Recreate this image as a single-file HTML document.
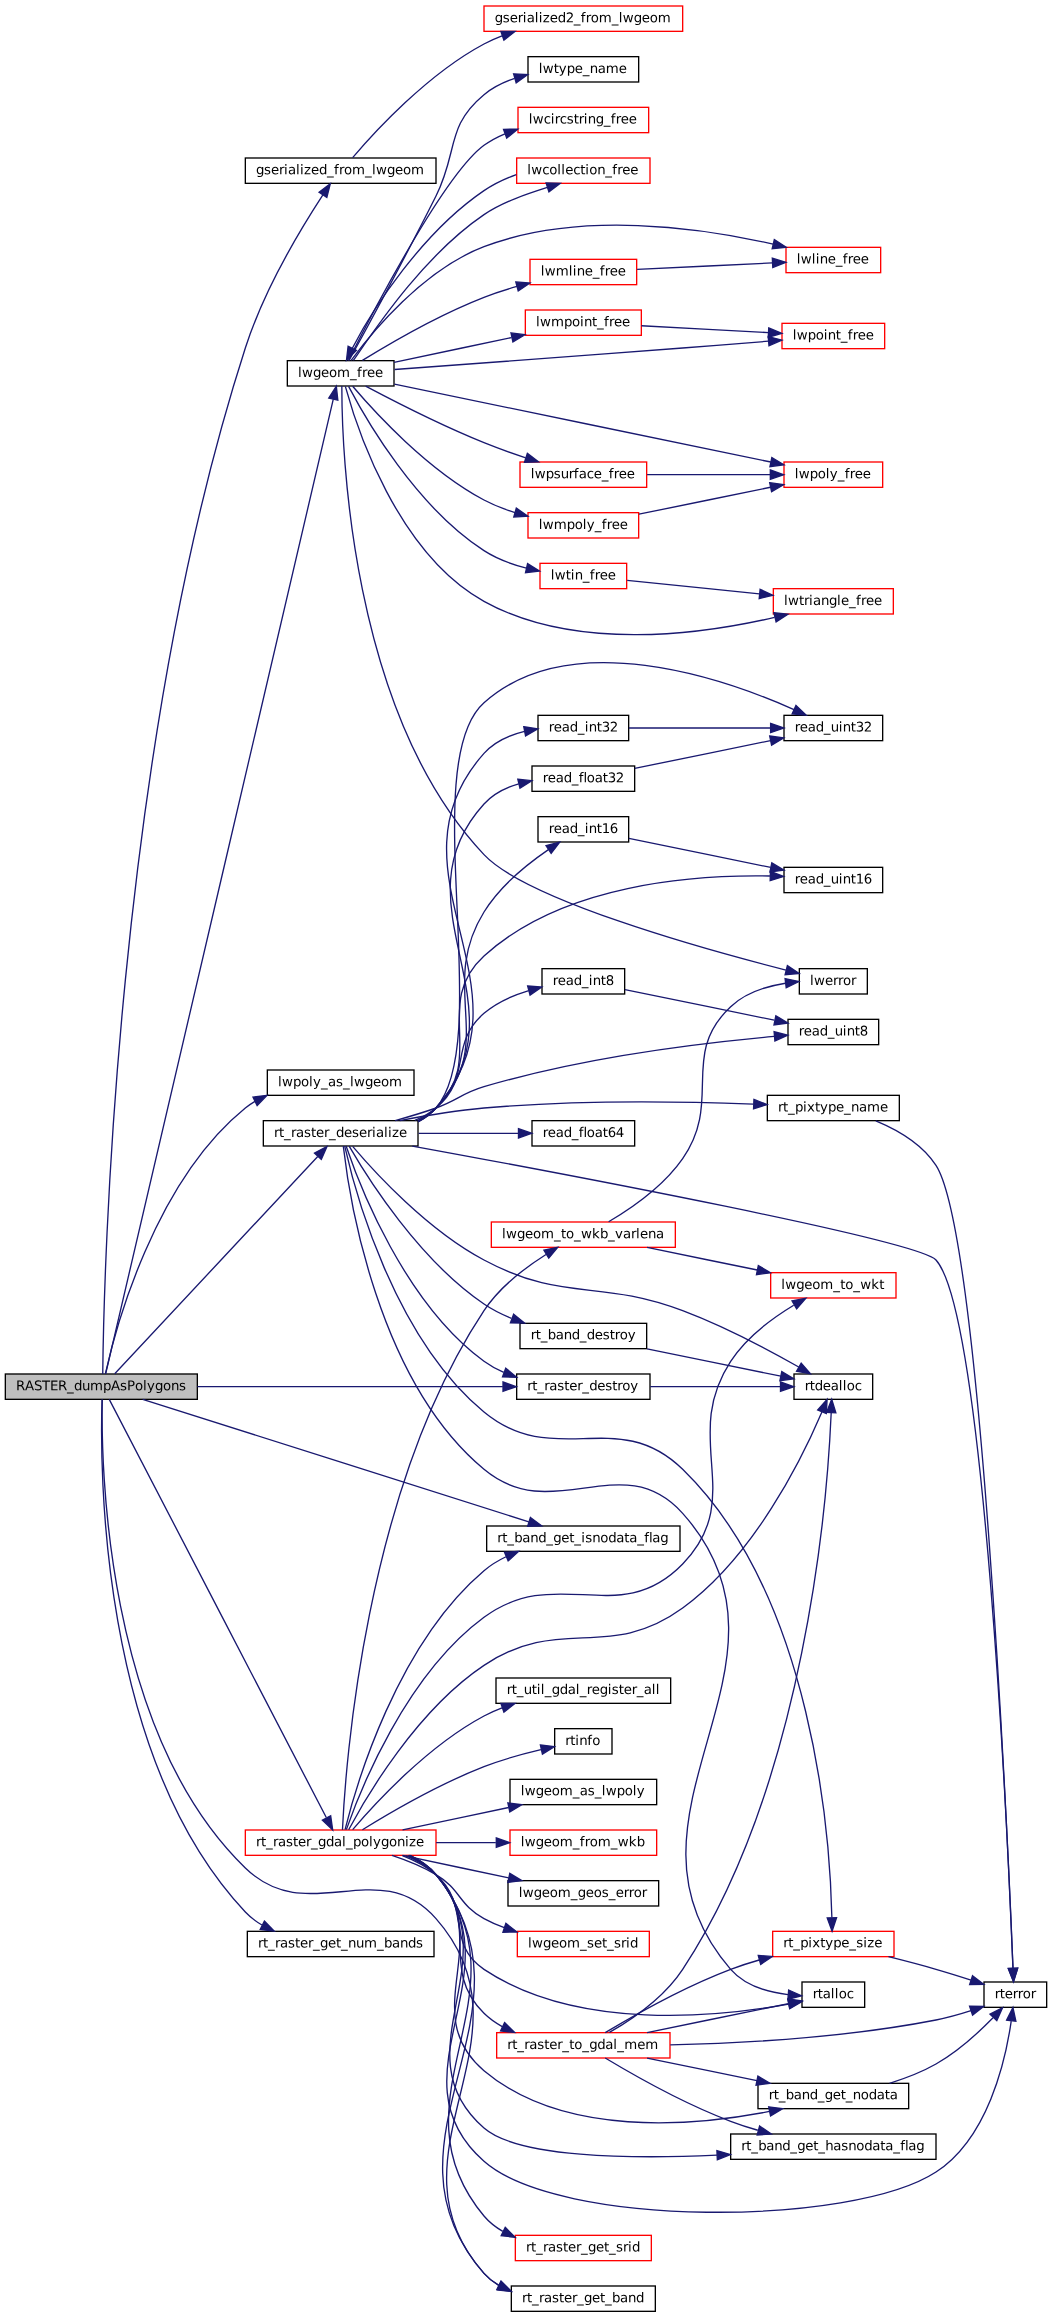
<!DOCTYPE html>
<html lang="en">
<head>
<meta charset="utf-8">
<title>RASTER_dumpAsPolygons call graph</title>
<style>
html,body{margin:0;padding:0;background:#fff;}
body{width:1052px;height:2317px;overflow:hidden;}
svg{display:block;will-change:transform;}
svg text{font-family:"DejaVu Sans","Liberation Sans",sans-serif;font-size:10px;fill:#000;}
</style>
</head>
<body>
<svg width="1052" height="2317.3333" viewBox="0 0 789 1738">
<g id="graph0" class="graph" transform="translate(4 1734)">
<polygon fill="white" stroke="none" points="-4,4 -4,-1734 785,-1734 785,4 -4,4"/>
<g id="node1" class="node">
<rect fill="#bfbfbf" stroke="black" x="0" y="-703.5" width="144" height="19"/>
<text transform="translate(8 -691.312) rotate(-0.03)" x="0 6.75 13.5 19.5 25.5 31.5 38.25 43.5 49.5 55.5 65.25 71.25 78 83.25 89.25 95.25 98.25 104.25 110.25 116.25 122.25">RASTER_dumpAsPolygons</text>
</g>
<g id="node2" class="node">
<rect fill="white" stroke="black" x="180" y="-1615.5" width="143" height="19"/>
<text transform="translate(188 -1603.312) rotate(-0.03)" x="0 6 11.25 17.25 21 24 30 33 36 41.25 47.25 53.25 58.5 62.25 66 72 81.75 87 90 98.25 104.25 110.25 116.25">gserialized_from_lwgeom</text>
</g>
<g id="edge1" class="edge">
<path fill="none" stroke="midnightblue" d="M73.06,-703.53C73.75,-769.88 81.96,-1168.98 180,-1473 194.08,-1516.67 222.01,-1563 238.17,-1587.8"/>
<polygon fill="midnightblue" stroke="midnightblue" points="235.29,-1589.79 243.73,-1596.2 241.13,-1585.93 235.29,-1589.79"/>
</g>
<g id="node4" class="node">
<rect fill="white" stroke="black" x="211.5" y="-1463.5" width="80" height="19"/>
<text transform="translate(219.5 -1451.25) rotate(-0.03)" x="0 3 11.25 17.25 23.25 29.25 39 44.25 48 51.75 57.75">lwgeom_free</text>
</g>
<g id="edge3" class="edge">
<path fill="none" stroke="midnightblue" d="M75.24,-703.61C93.69,-782.6 220.3,-1324.69 245.97,-1434.59"/>
<polygon fill="midnightblue" stroke="midnightblue" points="242.56,-1435.41 248.25,-1444.35 249.38,-1433.81 242.56,-1435.41"/>
</g>
<g id="node18" class="node">
<rect fill="white" stroke="black" x="196.5" y="-931.5" width="110" height="19"/>
<text transform="translate(204.5 -919.312) rotate(-0.03)" x="0 3 11.25 17.25 23.25 26.25 32.25 37.5 43.5 48.75 54 57 65.25 71.25 77.25 83.25">lwpoly_as_lwgeom</text>
</g>
<g id="edge23" class="edge">
<path fill="none" stroke="midnightblue" d="M75.01,-703.66C82.44,-736.9 111.56,-847.61 180,-903 182.26,-904.83 184.69,-906.49 187.23,-907.98"/>
<polygon fill="midnightblue" stroke="midnightblue" points="185.72,-911.14 196.23,-912.49 188.85,-904.88 185.72,-911.14"/>
</g>
<g id="node19" class="node">
<rect fill="white" stroke="black" x="361" y="-589.5" width="145" height="19"/>
<text transform="translate(368.938 -577.312) rotate(-0.03)" x="0 3.75 7.5 12.75 18.75 24.75 30.75 36.75 42 48 54 57.75 63 66 71.25 77.25 83.25 89.25 95.25 99 105 110.25 113.77 116.25 122.25">rt_band_get_isnodata_flag</text>
</g>
<g id="edge24" class="edge">
<path fill="none" stroke="midnightblue" d="M103.03,-684.48C167.66,-663.98 319.95,-615.69 392.6,-592.65"/>
<polygon fill="midnightblue" stroke="midnightblue" points="393.83,-595.94 402.3,-589.58 391.71,-589.26 393.83,-595.94"/>
</g>
<g id="node20" class="node">
<rect fill="white" stroke="black" x="193.5" y="-893.5" width="116" height="19"/>
<text transform="translate(201.5 -881.25) rotate(-0.03)" x="0 3.75 7.5 12.75 16.5 22.5 27.75 31.5 37.5 41.25 46.5 52.5 58.5 63.75 69.75 73.5 76.5 82.5 85.5 88.5 93.75">rt_raster_deserialize</text>
</g>
<g id="edge25" class="edge">
<path fill="none" stroke="midnightblue" d="M82.05,-703.68C110.41,-734.04 197.85,-827.65 234.3,-866.66"/>
<polygon fill="midnightblue" stroke="midnightblue" points="231.87,-869.19 241.26,-874.11 236.99,-864.41 231.87,-869.19"/>
</g>
<g id="node34" class="node">
<rect fill="white" stroke="black" x="383.5" y="-703.5" width="100" height="19"/>
<text transform="translate(391.438 -691.312) rotate(-0.03)" x="0 3.75 7.5 12.75 16.5 22.5 27.75 31.5 37.5 41.25 46.5 52.5 58.5 63.75 67.5 71.25 77.25">rt_raster_destroy</text>
</g>
<g id="edge49" class="edge">
<path fill="none" stroke="midnightblue" d="M144.03,-694C211,-694 310.22,-694 373.1,-694"/>
<polygon fill="midnightblue" stroke="midnightblue" points="373.25,-697.5 383.25,-694 373.25,-690.5 373.25,-697.5"/>
</g>
<g id="node36" class="node">
<rect fill="white" stroke="red" x="180" y="-361.5" width="143" height="19"/>
<text transform="translate(188 -349.312) rotate(-0.03)" x="0 3.75 7.5 12.75 16.5 22.5 27.75 31.5 37.5 41.25 46.5 52.5 58.5 64.5 67.5 72.75 78.75 84.75 87.75 93.75 99.75 105.75 111.75 114.75 120">rt_raster_gdal_polygonize</text>
</g>
<g id="edge50" class="edge">
<path fill="none" stroke="midnightblue" d="M77.93,-684.5C102.07,-638 207.86,-434.16 240.72,-370.84"/>
<polygon fill="midnightblue" stroke="midnightblue" points="244.01,-372.11 245.51,-361.62 237.79,-368.88 244.01,-372.11"/>
</g>
<g id="node45" class="node">
<rect fill="white" stroke="black" x="379.5" y="-19.5" width="108" height="19"/>
<text transform="translate(387.5 -7.312) rotate(-0.03)" x="0 3.75 7.5 12.75 16.5 22.5 27.75 31.5 37.5 41.25 46.5 52.5 58.5 62.25 67.5 73.5 79.5 85.5">rt_raster_get_band</text>
</g>
<g id="edge77" class="edge">
<path fill="none" stroke="midnightblue" d="M72.69,-684.22C71.79,-637.59 74.3,-435.74 180,-333 227.16,-287.17 279.5,-344.32 323,-295 401.91,-205.53 279.78,-118.2 359,-29 362.14,-25.47 365.84,-22.55 369.88,-20.15"/>
<polygon fill="midnightblue" stroke="midnightblue" points="371.7,-23.16 379.19,-15.67 368.66,-16.85 371.7,-23.16"/>
</g>
<g id="node50" class="node">
<rect fill="white" stroke="black" x="181.5" y="-285.5" width="140" height="19"/>
<text transform="translate(189.5 -273.375) rotate(-0.03)" x="0 3.75 7.5 12.75 16.5 22.5 27.75 31.5 37.5 41.25 46.5 52.5 58.5 62.25 67.5 73.5 79.5 89.25 94.5 100.5 106.5 112.5 118.5">rt_raster_get_num_bands</text>
</g>
<g id="edge78" class="edge">
<path fill="none" stroke="midnightblue" d="M72.57,-684.49C70.92,-636.37 69.86,-417.3 180,-300 183.61,-296.15 187.87,-292.92 192.47,-290.21"/>
<polygon fill="midnightblue" stroke="midnightblue" points="194.28,-293.21 201.66,-285.6 191.15,-286.95 194.28,-293.21"/>
</g>
<g id="node3" class="node">
<rect fill="white" stroke="red" x="359" y="-1729.5" width="149" height="19"/>
<text transform="translate(367.062 -1717.312) rotate(-0.03)" x="0 6 11.25 17.25 21 24 30 33 36 41.25 47.25 53.25 59.25 64.5 68.25 72 78 87.75 93 96 104.25 110.25 116.25 122.25">gserialized2_from_lwgeom</text>
</g>
<g id="edge2" class="edge">
<path fill="none" stroke="midnightblue" d="M260.5,-1615.73C276.9,-1635.03 316.39,-1678.23 359,-1701 363.28,-1703.29 367.85,-1705.31 372.53,-1707.09"/>
<polygon fill="midnightblue" stroke="midnightblue" points="371.67,-1710.5 382.26,-1710.44 373.94,-1703.88 371.67,-1710.5"/>
</g>
<g id="node5" class="node">
<rect fill="white" stroke="red" x="384.5" y="-1653.5" width="98" height="19"/>
<text transform="translate(392.562 -1641.375) rotate(-0.03)" x="0 3 11.25 16.5 19.5 23.25 28.5 33.75 37.5 41.25 44.25 50.25 56.25 61.5 65.25 69 75">lwcircstring_free</text>
</g>
<g id="edge4" class="edge">
<path fill="none" stroke="midnightblue" d="M257.26,-1463.58C273.67,-1496.28 328.55,-1602.64 359,-1625 363.76,-1628.5 369.11,-1631.35 374.7,-1633.68"/>
<polygon fill="midnightblue" stroke="midnightblue" points="373.66,-1637.03 384.26,-1637.13 376.04,-1630.45 373.66,-1637.03"/>
</g>
<g id="node6" class="node">
<rect fill="white" stroke="red" x="383.5" y="-1615.5" width="100" height="19"/>
<text transform="translate(391.438 -1603.312) rotate(-0.03)" x="0 3 11.25 16.5 22.5 25.5 28.5 34.5 39.75 43.5 46.5 52.5 58.5 63.75 67.5 71.25 77.25">lwcollection_free</text>
</g>
<g id="edge5" class="edge">
<path fill="none" stroke="midnightblue" d="M261.02,-1463.67C276.9,-1486.59 313.55,-1542.16 359,-1573 373.26,-1582.68 391.7,-1588.68 406.54,-1593.4"/>
<polygon fill="midnightblue" stroke="midnightblue" points="405.56,-1596.76 416.15,-1596.49 407.7,-1590.1 405.56,-1596.76"/>
</g>
<g id="node7" class="node">
<rect fill="white" stroke="black" x="595.5" y="-1007.5" width="51" height="19"/>
<text transform="translate(603.5 -995.25) rotate(-0.03)" x="0 3 11.25 17.25 21 24.75 30.75">lwerror</text>
</g>
<g id="edge7" class="edge">
<path fill="none" stroke="midnightblue" d="M252.38,-1444.42C252.32,-1398.69 258.1,-1200.38 359,-1093 390.75,-1059.21 522.06,-1022.58 585.45,-1006.44"/>
<polygon fill="midnightblue" stroke="midnightblue" points="586.54,-1009.78 595.38,-1003.94 584.83,-1002.99 586.54,-1009.78"/>
</g>
<g id="node8" class="node">
<rect fill="white" stroke="red" x="585.5" y="-1548.5" width="71" height="19"/>
<text transform="translate(593.562 -1536.375) rotate(-0.03)" x="0 3 11.25 14.25 17.25 23.25 29.25 34.5 38.25 42 48">lwline_free</text>
</g>
<g id="edge8" class="edge">
<path fill="none" stroke="midnightblue" d="M259.36,-1463.73C274.52,-1484.25 313.16,-1531.53 359,-1549 431.05,-1576.47 522.54,-1563.03 575.85,-1550.91"/>
<polygon fill="midnightblue" stroke="midnightblue" points="576.74,-1554.3 585.67,-1548.6 575.13,-1547.49 576.74,-1554.3"/>
</g>
<g id="node9" class="node">
<rect fill="white" stroke="red" x="393.5" y="-1539.5" width="80" height="19"/>
<text transform="translate(401.562 -1527.375) rotate(-0.03)" x="0 3 11.25 21 24 27 33 39 44.25 48 51.75 57.75">lwmline_free</text>
</g>
<g id="edge9" class="edge">
<path fill="none" stroke="midnightblue" d="M267.82,-1463.71C288.02,-1476.17 325.01,-1497.73 359,-1511 366.85,-1514.07 375.37,-1516.79 383.73,-1519.14"/>
<polygon fill="midnightblue" stroke="midnightblue" points="382.86,-1522.53 393.42,-1521.74 384.67,-1515.77 382.86,-1522.53"/>
</g>
<g id="node10" class="node">
<rect fill="white" stroke="red" x="390" y="-1501.5" width="87" height="19"/>
<text transform="translate(398 -1489.312) rotate(-0.03)" x="0 3 11.25 21 27 33 36 42 45.75 51 54.75 58.5 64.5">lwmpoint_free</text>
</g>
<g id="edge11" class="edge">
<path fill="none" stroke="midnightblue" d="M291.56,-1462.25C317.34,-1467.69 351.44,-1474.89 379.65,-1480.84"/>
<polygon fill="midnightblue" stroke="midnightblue" points="379.24,-1484.33 389.74,-1482.97 380.68,-1477.48 379.24,-1484.33"/>
</g>
<g id="node11" class="node">
<rect fill="white" stroke="red" x="582.5" y="-1491.5" width="77" height="19"/>
<text transform="translate(590.562 -1479.375) rotate(-0.03)" x="0 3 11.25 17.25 23.25 26.25 32.25 36 41.25 45 48.75 54.75">lwpoint_free</text>
</g>
<g id="edge15" class="edge">
<path fill="none" stroke="midnightblue" d="M291.9,-1456.86C342.09,-1460.51 431.5,-1467.08 508,-1473 529.12,-1474.63 552.47,-1476.5 572.36,-1478.11"/>
<polygon fill="midnightblue" stroke="midnightblue" points="572.17,-1481.6 582.42,-1478.92 572.73,-1474.63 572.17,-1481.6"/>
</g>
<g id="node12" class="node">
<rect fill="white" stroke="red" x="392" y="-1349.5" width="83" height="19"/>
<text transform="translate(400.062 -1337.25) rotate(-0.03)" x="0 3 11.25 21 27 33 36 42 47.25 51 54.75 60.75">lwmpoly_free</text>
</g>
<g id="edge13" class="edge">
<path fill="none" stroke="midnightblue" d="M260.5,-1444.27C276.9,-1424.97 316.39,-1381.77 359,-1359 366.19,-1355.16 374.2,-1352.06 382.2,-1349.58"/>
<polygon fill="midnightblue" stroke="midnightblue" points="383.24,-1352.92 391.92,-1346.84 381.34,-1346.19 383.24,-1352.92"/>
</g>
<g id="node13" class="node">
<rect fill="white" stroke="red" x="584" y="-1387.5" width="74" height="19"/>
<text transform="translate(592.062 -1375.312) rotate(-0.03)" x="0 3 11.25 17.25 23.25 26.25 32.25 37.5 41.25 45 51">lwpoly_free</text>
</g>
<g id="edge16" class="edge">
<path fill="none" stroke="midnightblue" d="M291.83,-1445.87C360.36,-1431.69 501.28,-1402.55 574.14,-1387.48"/>
<polygon fill="midnightblue" stroke="midnightblue" points="574.87,-1390.91 583.95,-1385.45 573.45,-1384.05 574.87,-1390.91"/>
</g>
<g id="node14" class="node">
<rect fill="white" stroke="red" x="386" y="-1387.5" width="95" height="19"/>
<text transform="translate(394.062 -1375.312) rotate(-0.03)" x="0 3 11.25 17.25 22.5 28.5 32.25 36 42 47.25 53.25 58.5 62.25 66 72">lwpsurface_free</text>
</g>
<g id="edge17" class="edge">
<path fill="none" stroke="midnightblue" d="M270.24,-1444.39C291.11,-1433.32 326.96,-1414.98 359,-1402 368.99,-1397.95 379.95,-1394.08 390.29,-1390.67"/>
<polygon fill="midnightblue" stroke="midnightblue" points="391.51,-1393.96 399.95,-1387.56 389.36,-1387.3 391.51,-1393.96"/>
</g>
<g id="node15" class="node">
<rect fill="white" stroke="red" x="401" y="-1311.5" width="65" height="19"/>
<text transform="translate(409.062 -1299.375) rotate(-0.03)" x="0 3 11.25 15 18 24 29.25 33 36.75 42.75">lwtin_free</text>
</g>
<g id="edge19" class="edge">
<path fill="none" stroke="midnightblue" d="M257.43,-1444.19C270.42,-1419.41 308.09,-1353.94 359,-1321 368.49,-1314.86 379.87,-1310.7 390.81,-1307.89"/>
<polygon fill="midnightblue" stroke="midnightblue" points="391.68,-1311.28 400.66,-1305.66 390.13,-1304.45 391.68,-1311.28"/>
</g>
<g id="node16" class="node">
<rect fill="white" stroke="red" x="576" y="-1292.5" width="90" height="19"/>
<text transform="translate(584 -1280.25) rotate(-0.03)" x="0 3 11.25 15 18.75 21.75 27.75 33.75 39.75 42.75 48.75 54 57.75 61.5 67.5">lwtriangle_free</text>
</g>
<g id="edge21" class="edge">
<path fill="none" stroke="midnightblue" d="M254.99,-1444.21C263.39,-1413.53 293.87,-1319.16 359,-1283 427.48,-1244.98 522.48,-1258.3 576.96,-1270.97"/>
<polygon fill="midnightblue" stroke="midnightblue" points="576.43,-1274.44 586.97,-1273.4 578.08,-1267.64 576.43,-1274.44"/>
</g>
<g id="node17" class="node">
<rect fill="white" stroke="black" x="392" y="-1691.5" width="83" height="19"/>
<text transform="translate(400.062 -1679.25) rotate(-0.03)" x="0 3 11.25 15 21 27 33 38.25 44.25 50.25 60">lwtype_name</text>
</g>
<g id="edge22" class="edge">
<path fill="none" stroke="midnightblue" d="M257.78,-1463.6C269.72,-1485.38 299.57,-1540.28 323,-1587 339.76,-1620.41 330.19,-1639.19 359,-1663 365.64,-1668.49 373.69,-1672.42 381.99,-1675.22"/>
<polygon fill="midnightblue" stroke="midnightblue" points="381.2,-1678.63 391.78,-1678.02 383.13,-1671.9 381.2,-1678.63"/>
</g>
<g id="edge6" class="edge">
<path fill="none" stroke="midnightblue" d="M383.25,-1603.03C374.77,-1599.98 366.33,-1595.97 359,-1591 312.79,-1559.64 275.68,-1502.73 260.25,-1472.82"/>
<polygon fill="midnightblue" stroke="midnightblue" points="263.38,-1471.25 255.86,-1463.78 257.08,-1474.31 263.38,-1471.25"/>
</g>
<g id="edge10" class="edge">
<path fill="none" stroke="midnightblue" d="M473.84,-1531.91C503.56,-1533.35 544.37,-1535.33 575.31,-1536.83"/>
<polygon fill="midnightblue" stroke="midnightblue" points="575.24,-1540.33 585.4,-1537.32 575.58,-1533.34 575.24,-1540.33"/>
</g>
<g id="edge12" class="edge">
<path fill="none" stroke="midnightblue" d="M477.06,-1489.71C505.48,-1488.17 542.89,-1486.16 572.31,-1484.57"/>
<polygon fill="midnightblue" stroke="midnightblue" points="572.56,-1488.06 582.36,-1484.03 572.18,-1481.07 572.56,-1488.06"/>
</g>
<g id="edge14" class="edge">
<path fill="none" stroke="midnightblue" d="M475.21,-1348.34C504.34,-1354.31 543.59,-1362.35 573.88,-1368.55"/>
<polygon fill="midnightblue" stroke="midnightblue" points="573.28,-1372 583.78,-1370.58 574.69,-1365.14 573.28,-1372"/>
</g>
<g id="edge18" class="edge">
<path fill="none" stroke="midnightblue" d="M481.31,-1378C509.6,-1378 545.53,-1378 573.73,-1378"/>
<polygon fill="midnightblue" stroke="midnightblue" points="573.74,-1381.5 583.74,-1378 573.74,-1374.5 573.74,-1381.5"/>
</g>
<g id="edge20" class="edge">
<path fill="none" stroke="midnightblue" d="M466.39,-1298.73C493.59,-1295.95 533.29,-1291.88 565.52,-1288.58"/>
<polygon fill="midnightblue" stroke="midnightblue" points="566.1,-1292.04 575.7,-1287.54 565.39,-1285.08 566.1,-1292.04"/>
</g>
<g id="node21" class="node">
<rect fill="white" stroke="black" x="395" y="-1159.5" width="77" height="19"/>
<text transform="translate(403.062 -1147.312) rotate(-0.03)" x="0 3.75 9.75 15.75 21.75 27 30.521 33 39 45 48.75 54.75">read_float32</text>
</g>
<g id="edge26" class="edge">
<path fill="none" stroke="midnightblue" d="M309.8,-892.97C314.74,-895.57 319.27,-898.85 323,-903 391.57,-979.3 290.04,-1055.05 359,-1131 365.84,-1138.54 375.25,-1143.26 385.05,-1146.17"/>
<polygon fill="midnightblue" stroke="midnightblue" points="384.36,-1149.6 394.9,-1148.52 385.98,-1142.8 384.36,-1149.6"/>
</g>
<g id="node22" class="node">
<rect fill="white" stroke="black" x="584" y="-1197.5" width="74" height="19"/>
<text transform="translate(592.062 -1185.375) rotate(-0.03)" x="0 3.75 9.75 15.75 21.75 27 33 36 42 45.75 51.75">read_uint32</text>
</g>
<g id="edge36" class="edge">
<path fill="none" stroke="midnightblue" d="M309.63,-892.65C314.67,-895.3 319.27,-898.68 323,-903 367.48,-954.47 308.15,-1161.81 359,-1207 424.22,-1264.95 538.47,-1225.26 591.48,-1201.82"/>
<polygon fill="midnightblue" stroke="midnightblue" points="592.99,-1204.98 600.64,-1197.65 590.09,-1198.6 592.99,-1204.98"/>
</g>
<g id="node23" class="node">
<rect fill="white" stroke="black" x="395" y="-893.5" width="77" height="19"/>
<text transform="translate(403.062 -881.25) rotate(-0.03)" x="0 3.75 9.75 15.75 21.75 27 30.521 33 39 45 48.75 54.75">read_float64</text>
</g>
<g id="edge28" class="edge">
<path fill="none" stroke="midnightblue" d="M309.95,-884C334.04,-884 361.72,-884 384.68,-884"/>
<polygon fill="midnightblue" stroke="midnightblue" points="384.86,-887.5 394.86,-884 384.86,-880.5 384.86,-887.5"/>
</g>
<g id="node24" class="node">
<rect fill="white" stroke="black" x="399.5" y="-1121.5" width="68" height="19"/>
<text transform="translate(407.562 -1109.25) rotate(-0.03)" x="0 3.75 9.75 15.75 21.75 27 30 36 39.75 45.75">read_int16</text>
</g>
<g id="edge29" class="edge">
<path fill="none" stroke="midnightblue" d="M309.79,-893.48C314.67,-895.98 319.19,-899.1 323,-903 370.01,-951.11 323.55,-992.84 359,-1050 371.03,-1069.39 391.16,-1085.75 407.32,-1096.79"/>
<polygon fill="midnightblue" stroke="midnightblue" points="405.53,-1099.8 415.81,-1102.36 409.37,-1093.95 405.53,-1099.8"/>
</g>
<g id="node25" class="node">
<rect fill="white" stroke="black" x="584" y="-1083.5" width="74" height="19"/>
<text transform="translate(592.062 -1071.375) rotate(-0.03)" x="0 3.75 9.75 15.75 21.75 27 33 36 42 45.75 51.75">read_uint16</text>
</g>
<g id="edge35" class="edge">
<path fill="none" stroke="midnightblue" d="M309.18,-893.57C314.25,-896.05 318.97,-899.14 323,-903 361.36,-939.76 319.76,-981.17 359,-1017 418.01,-1070.88 515.8,-1078.05 573.45,-1076.99"/>
<polygon fill="midnightblue" stroke="midnightblue" points="573.83,-1080.48 583.73,-1076.7 573.63,-1073.48 573.83,-1080.48"/>
</g>
<g id="node26" class="node">
<rect fill="white" stroke="black" x="399.5" y="-1197.5" width="68" height="19"/>
<text transform="translate(407.562 -1185.375) rotate(-0.03)" x="0 3.75 9.75 15.75 21.75 27 30 36 39.75 45.75">read_int32</text>
</g>
<g id="edge31" class="edge">
<path fill="none" stroke="midnightblue" d="M309.56,-892.71C314.61,-895.35 319.23,-898.72 323,-903 401.76,-992.61 279.78,-1079.8 359,-1169 366.78,-1177.77 378.03,-1182.73 389.4,-1185.48"/>
<polygon fill="midnightblue" stroke="midnightblue" points="388.85,-1188.94 399.33,-1187.37 390.16,-1182.07 388.85,-1188.94"/>
</g>
<g id="node27" class="node">
<rect fill="white" stroke="black" x="402.5" y="-1007.5" width="62" height="19"/>
<text transform="translate(410.562 -995.25) rotate(-0.03)" x="0 3.75 9.75 15.75 21.75 27 30 36 39.75">read_int8</text>
</g>
<g id="edge33" class="edge">
<path fill="none" stroke="midnightblue" d="M307.14,-893.65C312.85,-896.1 318.28,-899.16 323,-903 350.46,-925.31 332.14,-950.98 359,-974 368.48,-982.12 380.76,-987.51 392.57,-991.08"/>
<polygon fill="midnightblue" stroke="midnightblue" points="391.74,-994.48 402.3,-993.67 393.54,-987.71 391.74,-994.48"/>
</g>
<g id="node28" class="node">
<rect fill="white" stroke="black" x="587" y="-969.5" width="68" height="19"/>
<text transform="translate(595.062 -957.375) rotate(-0.03)" x="0 3.75 9.75 15.75 21.75 27 33 36 42 45.75">read_uint8</text>
</g>
<g id="edge37" class="edge">
<path fill="none" stroke="midnightblue" d="M292.36,-893.59C302.45,-896.33 313.2,-899.53 323,-903 339.5,-908.85 342.21,-914.04 359,-919 433.7,-941.05 524.13,-951.89 576.56,-956.68"/>
<polygon fill="midnightblue" stroke="midnightblue" points="576.57,-960.2 586.84,-957.59 577.19,-953.23 576.57,-960.2"/>
</g>
<g id="node29" class="node">
<rect fill="white" stroke="black" x="386" y="-741.5" width="95" height="19"/>
<text transform="translate(394.062 -729.562) rotate(-0.03)" x="0 3.75 7.5 12.75 18.75 24.75 30.75 36.75 42 48 54 59.25 63 66.75 72.75">rt_band_destroy</text>
</g>
<g id="edge38" class="edge">
<path fill="none" stroke="midnightblue" d="M257.86,-874.4C271.55,-850.73 310.2,-789.11 359,-756 365.26,-751.75 372.33,-748.21 379.55,-745.27"/>
<polygon fill="midnightblue" stroke="midnightblue" points="381.25,-748.37 389.42,-741.62 378.82,-741.81 381.25,-748.37"/>
</g>
<g id="node30" class="node">
<rect fill="white" stroke="black" x="591.5" y="-703.5" width="59" height="19"/>
<text transform="translate(599.562 -691.312) rotate(-0.03)" x="0 3.75 7.5 13.5 19.5 25.5 28.5 31.5 37.5">rtdealloc</text>
</g>
<g id="edge47" class="edge">
<path fill="none" stroke="midnightblue" d="M260.49,-874.25C276.88,-854.94 316.35,-811.7 359,-789 419.33,-756.89 444.04,-775.09 508,-751 539.09,-739.29 572.81,-721.35 595.04,-708.73"/>
<polygon fill="midnightblue" stroke="midnightblue" points="596.9,-711.7 603.82,-703.68 593.41,-705.63 596.9,-711.7"/>
</g>
<g id="node31" class="node">
<rect fill="white" stroke="black" x="571.5" y="-912.5" width="99" height="19"/>
<text transform="translate(579.5 -900.375) rotate(-0.03)" x="0 3.75 7.5 12.75 18.75 21.75 27.75 31.5 37.5 43.5 49.5 54.75 60.75 66.75 76.5">rt_pixtype_name</text>
</g>
<g id="edge40" class="edge">
<path fill="none" stroke="midnightblue" d="M295.79,-893.51C315.04,-897.28 338.05,-901.15 359,-903 428.19,-909.12 508.09,-907.91 561.08,-905.96"/>
<polygon fill="midnightblue" stroke="midnightblue" points="561.45,-909.45 571.3,-905.56 561.17,-902.45 561.45,-909.45"/>
</g>
<g id="node32" class="node">
<rect fill="white" stroke="black" x="734" y="-247.5" width="47" height="19"/>
<text transform="translate(742.062 -235.312) rotate(-0.03)" x="0 3.75 7.5 13.5 17.25 21 27">rterror</text>
</g>
<g id="edge48" class="edge">
<path fill="none" stroke="midnightblue" d="M305.23,-874.46C420.3,-853.41 684.77,-803.69 698,-789 734.31,-748.69 752.05,-351.55 755.76,-257.77"/>
<polygon fill="midnightblue" stroke="midnightblue" points="759.26,-257.79 756.15,-247.67 752.26,-257.52 759.26,-257.79"/>
</g>
<g id="node33" class="node">
<rect fill="white" stroke="red" x="575.5" y="-285.5" width="91" height="19"/>
<text transform="translate(583.438 -273.562) rotate(-0.03)" x="0 3.75 7.5 12.75 18.75 21.75 27.75 31.5 37.5 43.5 49.5 54.75 60 63 68.25">rt_pixtype_size</text>
</g>
<g id="edge42" class="edge">
<path fill="none" stroke="midnightblue" d="M254.52,-874.39C261.98,-841.29 291.17,-731.01 359,-675 412.15,-631.11 458.69,-680.15 508,-632 606,-536.31 618.52,-355.89 619.91,-295.93"/>
<polygon fill="midnightblue" stroke="midnightblue" points="623.41,-295.66 620.06,-285.61 616.41,-295.56 623.41,-295.66"/>
</g>
<g id="edge44" class="edge">
<path fill="none" stroke="midnightblue" d="M255.56,-874.47C265.42,-845.36 299.24,-756.88 359,-713 363.51,-709.68 368.56,-706.95 373.83,-704.69"/>
<polygon fill="midnightblue" stroke="midnightblue" points="375.33,-707.86 383.49,-701.11 372.9,-701.3 375.33,-707.86"/>
</g>
<g id="node35" class="node">
<rect fill="white" stroke="black" x="597.5" y="-247.5" width="47" height="19"/>
<text transform="translate(605.562 -235.312) rotate(-0.03)" x="0 3.75 7.5 13.5 16.5 19.5 25.5">rtalloc</text>
</g>
<g id="edge46" class="edge">
<path fill="none" stroke="midnightblue" d="M253.46,-874.42C257.76,-836.92 278.71,-698.87 359,-632 411.12,-588.59 462.83,-649.59 508,-599 609.79,-484.99 443.76,-372.37 544,-257 554.58,-244.82 571.68,-239.85 586.97,-238.02"/>
<polygon fill="midnightblue" stroke="midnightblue" points="587.49,-241.49 597.18,-237.21 586.93,-234.51 587.49,-241.49"/>
</g>
<g id="edge27" class="edge">
<path fill="none" stroke="midnightblue" d="M472.04,-1157.69C501.46,-1163.72 542.54,-1172.13 573.95,-1178.57"/>
<polygon fill="midnightblue" stroke="midnightblue" points="573.28,-1182 583.78,-1180.58 574.69,-1175.14 573.28,-1182"/>
</g>
<g id="edge30" class="edge">
<path fill="none" stroke="midnightblue" d="M467.66,-1105.21C497.32,-1099.13 541.07,-1090.17 574.08,-1083.41"/>
<polygon fill="midnightblue" stroke="midnightblue" points="574.86,-1086.82 583.96,-1081.38 573.46,-1079.96 574.86,-1086.82"/>
</g>
<g id="edge32" class="edge">
<path fill="none" stroke="midnightblue" d="M467.66,-1188C497.19,-1188 540.69,-1188 573.65,-1188"/>
<polygon fill="midnightblue" stroke="midnightblue" points="573.96,-1191.5 583.96,-1188 573.96,-1184.5 573.96,-1191.5"/>
</g>
<g id="edge34" class="edge">
<path fill="none" stroke="midnightblue" d="M464.72,-991.81C495.14,-985.58 542.37,-975.9 576.75,-968.86"/>
<polygon fill="midnightblue" stroke="midnightblue" points="577.89,-972.2 586.98,-966.76 576.48,-965.34 577.89,-972.2"/>
</g>
<g id="edge39" class="edge">
<path fill="none" stroke="midnightblue" d="M481.31,-722.41C512.32,-716.06 552.5,-707.83 581.62,-701.86"/>
<polygon fill="midnightblue" stroke="midnightblue" points="582.33,-705.29 591.43,-699.85 580.93,-698.43 582.33,-705.29"/>
</g>
<g id="edge41" class="edge">
<path fill="none" stroke="midnightblue" d="M652.86,-893.4C669.04,-886.7 687.61,-876.03 698,-860 731.5,-808.29 751.62,-358.28 755.72,-257.83"/>
<polygon fill="midnightblue" stroke="midnightblue" points="759.22,-257.95 756.12,-247.81 752.22,-257.66 759.22,-257.95"/>
</g>
<g id="edge43" class="edge">
<path fill="none" stroke="midnightblue" d="M662.37,-266.46C673.92,-263.58 686.5,-260.3 698,-257 706.56,-254.54 715.75,-251.67 724.25,-248.92"/>
<polygon fill="midnightblue" stroke="midnightblue" points="725.42,-252.21 733.83,-245.77 723.24,-245.56 725.42,-252.21"/>
</g>
<g id="edge45" class="edge">
<path fill="none" stroke="midnightblue" d="M483.72,-694C514.18,-694 552.73,-694 581.06,-694"/>
<polygon fill="midnightblue" stroke="midnightblue" points="581.37,-697.5 591.37,-694 581.37,-690.5 581.37,-697.5"/>
</g>
<g id="edge60" class="edge">
<path fill="none" stroke="midnightblue" d="M254.78,-361.75C262.88,-394.33 293.45,-500.49 359,-556 363.91,-560.16 369.55,-563.6 375.49,-566.44"/>
<polygon fill="midnightblue" stroke="midnightblue" points="374.41,-569.79 384.99,-570.45 377.13,-563.34 374.41,-569.79"/>
</g>
<g id="edge74" class="edge">
<path fill="none" stroke="midnightblue" d="M257.49,-361.73C270.61,-386.31 308.55,-451.35 359,-485 416.34,-523.25 452.27,-487.44 508,-528 561.75,-567.12 597.69,-640.41 612.44,-675"/>
<polygon fill="midnightblue" stroke="midnightblue" points="609.28,-676.51 616.33,-684.42 615.74,-673.84 609.28,-676.51"/>
</g>
<g id="edge75" class="edge">
<path fill="none" stroke="midnightblue" d="M302.94,-342.39C310.56,-338.96 317.64,-334.31 323,-328 385.73,-254.17 286.42,-177.18 359,-113 415.45,-63.08 634.9,-63.82 698,-105 736.77,-130.3 750.02,-187.7 754.41,-218.15"/>
<polygon fill="midnightblue" stroke="midnightblue" points="750.98,-218.9 755.7,-228.38 757.92,-218.03 750.98,-218.9"/>
</g>
<g id="edge73" class="edge">
<path fill="none" stroke="midnightblue" d="M297.78,-342.37C306.84,-338.92 315.77,-334.27 323,-328 349.72,-304.81 329.54,-276.6 359,-257 429.21,-210.28 534.83,-221.33 587.59,-230.93"/>
<polygon fill="midnightblue" stroke="midnightblue" points="586.93,-234.36 597.41,-232.81 588.25,-227.49 586.93,-234.36"/>
</g>
<g id="node37" class="node">
<rect fill="white" stroke="black" x="378.5" y="-399.5" width="110" height="19"/>
<text transform="translate(386.562 -387.562) rotate(-0.03)" x="0 3 11.25 17.25 23.25 29.25 39 44.25 50.25 55.5 60.75 63.75 72 78 84 87">lwgeom_as_lwpoly</text>
</g>
<g id="edge51" class="edge">
<path fill="none" stroke="midnightblue" d="M297.92,-361.59C322.1,-366.69 352.03,-373.01 377.51,-378.39"/>
<polygon fill="midnightblue" stroke="midnightblue" points="376.9,-381.84 387.41,-380.48 378.34,-374.99 376.9,-381.84"/>
</g>
<g id="node38" class="node">
<rect fill="white" stroke="red" x="378.5" y="-361.5" width="110" height="19"/>
<text transform="translate(386.562 -349.312) rotate(-0.03)" x="0 3 11.25 17.25 23.25 29.25 39 44.25 48 51.75 57.75 67.5 72.75 81 87">lwgeom_from_wkb</text>
</g>
<g id="edge52" class="edge">
<path fill="none" stroke="midnightblue" d="M323.12,-352C337.87,-352 353.34,-352 367.85,-352"/>
<polygon fill="midnightblue" stroke="midnightblue" points="368.22,-355.5 378.22,-352 368.22,-348.5 368.22,-355.5"/>
</g>
<g id="node39" class="node">
<rect fill="white" stroke="black" x="377" y="-323.5" width="113" height="19"/>
<text transform="translate(385.062 -311.25) rotate(-0.03)" x="0 3 11.25 17.25 23.25 29.25 39 44.25 50.25 56.25 62.25 67.5 72.75 78.75 82.5 86.25 92.25">lwgeom_geos_error</text>
</g>
<g id="edge53" class="edge">
<path fill="none" stroke="midnightblue" d="M297.92,-342.41C322.1,-337.31 352.03,-330.99 377.51,-325.61"/>
<polygon fill="midnightblue" stroke="midnightblue" points="378.34,-329.01 387.41,-323.52 376.9,-322.16 378.34,-329.01"/>
</g>
<g id="node40" class="node">
<rect fill="white" stroke="red" x="384" y="-285.5" width="99" height="19"/>
<text transform="translate(392 -273.375) rotate(-0.03)" x="0 3 11.25 17.25 23.25 29.25 39 44.25 49.5 55.5 59.25 64.5 69.75 73.5 76.5">lwgeom_set_srid</text>
</g>
<g id="edge54" class="edge">
<path fill="none" stroke="midnightblue" d="M289.99,-342.42C301.04,-338.77 312.88,-334 323,-328 341.67,-316.93 339.93,-305.36 359,-295 363.78,-292.41 368.92,-290.15 374.2,-288.2"/>
<polygon fill="midnightblue" stroke="midnightblue" points="375.39,-291.49 383.77,-285 373.18,-284.85 375.39,-291.49"/>
</g>
<g id="node41" class="node">
<rect fill="white" stroke="red" x="364.5" y="-817.5" width="138" height="19"/>
<text transform="translate(372.5 -805.312) rotate(-0.03)" x="0 3 11.25 17.25 23.25 29.25 39 44.25 48 54 59.25 67.5 73.5 79.5 84.75 90.75 96.75 100.5 103.5 109.5 115.5">lwgeom_to_wkb_varlena</text>
</g>
<g id="edge55" class="edge">
<path fill="none" stroke="midnightblue" d="M252.85,-361.59C255,-408.4 269.39,-616 359,-751 370.72,-768.66 389.74,-783.19 405.5,-793.16"/>
<polygon fill="midnightblue" stroke="midnightblue" points="403.95,-796.32 414.32,-798.5 407.57,-790.33 403.95,-796.32"/>
</g>
<g id="node42" class="node">
<rect fill="white" stroke="red" x="574" y="-779.5" width="94" height="19"/>
<text transform="translate(581.938 -767.25) rotate(-0.03)" x="0 3 11.25 17.25 23.25 29.25 39 44.25 48 54 59.25 67.5 73.5">lwgeom_to_wkt</text>
</g>
<g id="edge58" class="edge">
<path fill="none" stroke="midnightblue" d="M255.76,-361.8C265.95,-390.92 300.11,-477.57 359,-521 414.19,-561.69 460.24,-511.8 508,-561 556.36,-610.81 505.96,-654.93 544,-713 555.71,-730.88 575.04,-745.26 591.27,-755.1"/>
<polygon fill="midnightblue" stroke="midnightblue" points="589.98,-758.4 600.39,-760.37 593.48,-752.34 589.98,-758.4"/>
</g>
<g id="node43" class="node">
<rect fill="white" stroke="black" x="544" y="-133.5" width="154" height="19"/>
<text transform="translate(551.938 -121.312) rotate(-0.03)" x="0 3.75 7.5 12.75 18.75 24.75 30.75 36.75 42 48 54 57.75 63 69 75 80.25 86.25 92.25 98.25 104.25 108 114 119.25 122.77 125.25 131.25">rt_band_get_hasnodata_flag</text>
</g>
<g id="edge59" class="edge">
<path fill="none" stroke="midnightblue" d="M302.47,-342.45C310.23,-339.02 317.49,-334.35 323,-328 379.35,-263.1 294.3,-194.58 359,-138 384.34,-115.84 467.99,-114.66 533.84,-117.59"/>
<polygon fill="midnightblue" stroke="midnightblue" points="533.68,-121.09 543.83,-118.07 534.01,-114.1 533.68,-121.09"/>
</g>
<g id="node44" class="node">
<rect fill="white" stroke="black" x="564.5" y="-171.5" width="113" height="19"/>
<text transform="translate(572.562 -159.562) rotate(-0.03)" x="0 3.75 7.5 12.75 18.75 24.75 30.75 36.75 42 48 54 57.75 63 69 75 81 87 90.75">rt_band_get_nodata</text>
</g>
<g id="edge61" class="edge">
<path fill="none" stroke="midnightblue" d="M301.83,-342.36C309.76,-338.94 317.24,-334.29 323,-328 368.43,-278.39 307.63,-224.42 359,-181 418.58,-130.65 515.64,-139.29 573.11,-150.44"/>
<polygon fill="midnightblue" stroke="midnightblue" points="572.52,-153.89 583.01,-152.47 573.92,-147.04 572.52,-153.89"/>
</g>
<g id="edge63" class="edge">
<path fill="none" stroke="midnightblue" d="M303.55,-342.43C311,-338.99 317.87,-334.33 323,-328 407.29,-224.03 270.86,-129.73 359,-29 362.25,-25.29 366.11,-22.26 370.35,-19.79"/>
<polygon fill="midnightblue" stroke="midnightblue" points="371.95,-22.9 379.49,-15.46 368.95,-16.58 371.95,-22.9"/>
</g>
<g id="node46" class="node">
<rect fill="white" stroke="red" x="382.5" y="-57.5" width="102" height="19"/>
<text transform="translate(390.5 -45.375) rotate(-0.03)" x="0 3.75 7.5 12.75 16.5 22.5 27.75 31.5 37.5 41.25 46.5 52.5 58.5 62.25 67.5 72.75 76.5 79.5">rt_raster_get_srid</text>
</g>
<g id="edge64" class="edge">
<path fill="none" stroke="midnightblue" d="M303.44,-342.35C310.9,-338.92 317.81,-334.28 323,-328 396.24,-239.47 285.21,-160.07 359,-72 362.92,-67.32 367.77,-63.55 373.09,-60.5"/>
<polygon fill="midnightblue" stroke="midnightblue" points="374.91,-63.51 382.41,-56.04 371.88,-57.2 374.91,-63.51"/>
</g>
<g id="node47" class="node">
<rect fill="white" stroke="red" x="368.5" y="-209.5" width="130" height="19"/>
<text transform="translate(376.438 -197.25) rotate(-0.03)" x="0 3.75 7.5 12.75 16.5 22.5 27.75 31.5 37.5 41.25 46.5 50.25 56.25 61.5 67.5 73.5 79.5 82.5 87.75 97.5 103.5">rt_raster_to_gdal_mem</text>
</g>
<g id="edge65" class="edge">
<path fill="none" stroke="midnightblue" d="M300.27,-342.36C308.64,-338.94 316.68,-334.29 323,-328 357.68,-293.5 324.11,-258.28 359,-224 363.01,-220.06 367.67,-216.77 372.67,-214.02"/>
<polygon fill="midnightblue" stroke="midnightblue" points="374.42,-217.06 381.96,-209.62 371.42,-210.73 374.42,-217.06"/>
</g>
<g id="node48" class="node">
<rect fill="white" stroke="black" x="368" y="-475.5" width="131" height="19"/>
<text transform="translate(376.062 -463.5) rotate(-0.03)" x="0 3.75 7.5 12.75 18.75 22.5 25.5 28.5 33.75 39.75 45.75 51.75 54.75 60 63.75 69.75 75.75 78.75 84 87.75 93.75 97.5 102.75 108.75 111.75">rt_util_gdal_register_all</text>
</g>
<g id="edge72" class="edge">
<path fill="none" stroke="midnightblue" d="M260.5,-361.73C276.9,-381.03 316.39,-424.23 359,-447 363.28,-449.29 367.85,-451.31 372.53,-453.09"/>
<polygon fill="midnightblue" stroke="midnightblue" points="371.67,-456.5 382.26,-456.44 373.94,-449.88 371.67,-456.5"/>
</g>
<g id="node49" class="node">
<rect fill="white" stroke="black" x="412" y="-437.5" width="43" height="19"/>
<text transform="translate(419.938 -425.25) rotate(-0.03)" x="0 3.75 7.5 10.5 16.5 20.25">rtinfo</text>
</g>
<g id="edge76" class="edge">
<path fill="none" stroke="midnightblue" d="M267.82,-361.71C288.02,-374.17 325.01,-395.73 359,-409 372.66,-414.33 388.33,-418.62 401.68,-421.76"/>
<polygon fill="midnightblue" stroke="midnightblue" points="401.29,-425.26 411.81,-424.03 402.82,-418.43 401.29,-425.26"/>
</g>
<g id="edge56" class="edge">
<path fill="none" stroke="midnightblue" d="M452.47,-817.65C469.15,-827.47 493.51,-844.2 508,-865 538.37,-908.6 505.3,-942.59 544,-979 555,-989.35 570.76,-994.3 585.07,-996.58"/>
<polygon fill="midnightblue" stroke="midnightblue" points="584.81,-1000.07 595.16,-997.81 585.65,-993.12 584.81,-1000.07"/>
</g>
<g id="edge57" class="edge">
<path fill="none" stroke="midnightblue" d="M481.31,-798.41C506.43,-793.26 537.58,-786.88 563.98,-781.48"/>
<polygon fill="midnightblue" stroke="midnightblue" points="564.75,-784.89 573.85,-779.45 563.35,-778.03 564.75,-784.89"/>
</g>
<g id="edge62" class="edge">
<path fill="none" stroke="midnightblue" d="M663.16,-171.55C674.84,-175.17 687.29,-179.92 698,-186 714.17,-195.18 729.76,-209.39 740.78,-220.64"/>
<polygon fill="midnightblue" stroke="midnightblue" points="738.51,-223.35 747.93,-228.2 743.6,-218.53 738.51,-223.35"/>
</g>
<g id="edge70" class="edge">
<path fill="none" stroke="midnightblue" d="M453.05,-209.66C469.9,-219.38 494.17,-235.94 508,-257 600.26,-397.5 616.54,-609.56 619.4,-674.45"/>
<polygon fill="midnightblue" stroke="midnightblue" points="615.9,-674.64 619.78,-684.5 622.9,-674.37 615.9,-674.64"/>
</g>
<g id="edge71" class="edge">
<path fill="none" stroke="midnightblue" d="M498.7,-200.31C552.41,-201.59 630.82,-205.87 698,-219 706.66,-220.69 715.83,-223.27 724.27,-225.99"/>
<polygon fill="midnightblue" stroke="midnightblue" points="723.18,-229.32 733.78,-229.2 725.42,-222.69 723.18,-229.32"/>
</g>
<g id="edge68" class="edge">
<path fill="none" stroke="midnightblue" d="M449.92,-209.51C470.64,-221.95 508.93,-243.7 544,-257 550.82,-259.59 558.12,-261.92 565.39,-264"/>
<polygon fill="midnightblue" stroke="midnightblue" points="564.69,-267.43 575.25,-266.67 566.52,-260.68 564.69,-267.43"/>
</g>
<g id="edge69" class="edge">
<path fill="none" stroke="midnightblue" d="M481.31,-209.59C514.38,-216.36 557.89,-225.28 587.28,-231.3"/>
<polygon fill="midnightblue" stroke="midnightblue" points="586.93,-234.8 597.43,-233.38 588.33,-227.94 586.93,-234.8"/>
</g>
<g id="edge66" class="edge">
<path fill="none" stroke="midnightblue" d="M449.92,-190.49C470.64,-178.05 508.93,-156.3 544,-143 550.49,-140.54 557.42,-138.3 564.35,-136.3"/>
<polygon fill="midnightblue" stroke="midnightblue" points="565.73,-139.55 574.45,-133.53 563.88,-132.8 565.73,-139.55"/>
</g>
<g id="edge67" class="edge">
<path fill="none" stroke="midnightblue" d="M481.31,-190.41C506.34,-185.28 537.34,-178.93 563.68,-173.54"/>
<polygon fill="midnightblue" stroke="midnightblue" points="564.43,-176.96 573.53,-171.52 563.03,-170.1 564.43,-176.96"/>
</g>
</g>
</svg>
</body>
</html>
